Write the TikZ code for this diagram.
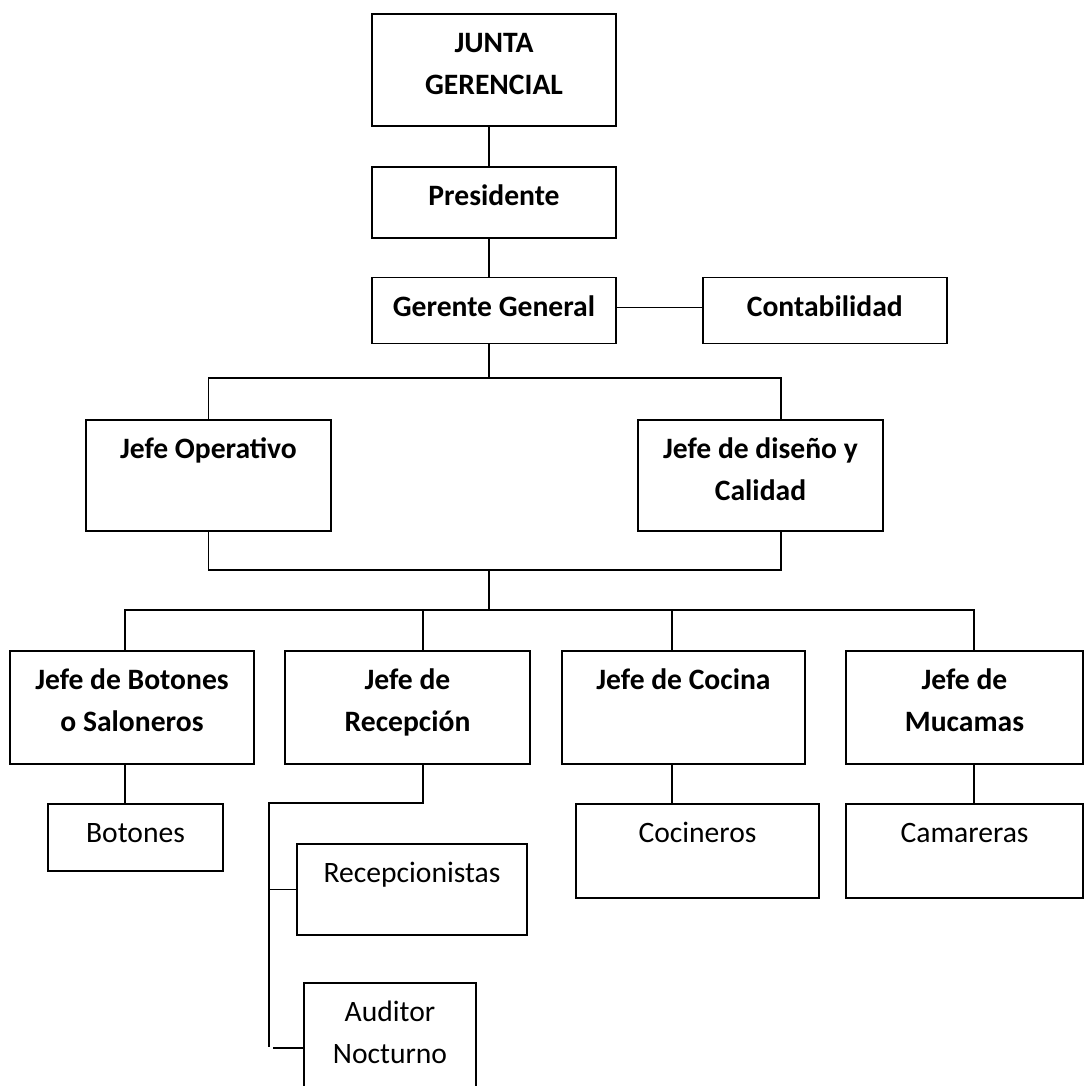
\documentclass[tikz,border=0pt]{standalone}
\usepackage{fontspec}
\setmainfont{Carlito}
\usetikzlibrary{positioning}

\tikzset{
  box/.style 2 args={draw, line width=0.9pt, inner sep=0pt, align=center,
      minimum width=#1, text height=19.5pt, text depth=#2,
      font=\fontsize{14.8pt}{21pt}\selectfont},
  twoline/.style={text height=40.5pt},
  boss/.style={font=\fontsize{14.8pt}{21pt}\selectfont\bfseries},
  link/.style={line width=0.9pt},
}

\begin{document}
\begin{tikzpicture}[x=0.5pt, y=-0.5pt]
\path[fill=white, use as bounding box] (0,0) rectangle (1084,1086);

% direccion
\node[box={122pt}{15.5pt}, twoline, boss, anchor=north] (jg) at (494,13) {JUNTA\\GERENCIAL};
\node[box={122pt}{16pt}, boss, below=19.5pt of jg] (pres) {Presidente};
\node[box={122pt}{13.5pt}, boss, below=19pt of pres] (ger) {Gerente General};
\node[box={122pt}{13.5pt}, boss, right=42.5pt of ger] (cont) {Contabilidad};

% jefaturas
\node[box={122.5pt}{36pt}, boss, anchor=north] (jop) at (208.5,419) {Jefe Operativo};
\node[box={122.5pt}{15pt}, twoline, boss, anchor=north] (jdc) at (760.5,419) {Jefe de diseño y\\Calidad};

\node[box={122pt}{16pt}, twoline, boss, anchor=north] (jbot) at (132,650) {Jefe de Botones\\o Saloneros};
\node[box={122.5pt}{16pt}, twoline, boss, anchor=north] (jrec) at (407.5,650) {Jefe de\\Recepción};
\node[box={121.5pt}{37pt}, boss, anchor=north] (jcoc) at (683.5,650) {Jefe de Cocina};
\node[box={118.5pt}{16pt}, twoline, boss, anchor=north] (jmuc) at (964.5,650) {Jefe de\\Mucamas};

% personal
\node[box={87.5pt}{14pt}, anchor=north] (bot) at (135.5,803) {Botones};
\node[box={115pt}{26pt}, anchor=north] (rcp) at (412,843) {Recepcionistas};
\node[box={86pt}{14.5pt}, twoline, anchor=north] (aud) at (390,982) {Auditor\\Nocturno};
\node[box={121.5pt}{27.5pt}, anchor=north] (coci) at (697.5,803) {Cocineros};
\node[box={118.5pt}{27.5pt}, anchor=north] (cama) at (964.5,803) {Camareras};

% lineas
\coordinate (t) at (489,0);
\coordinate (dj) at (781,0);
\coordinate (bus1) at (0,378);
\coordinate (bus2) at (0,570);
\coordinate (bus3) at (0,610);
\coordinate (d1) at (125,0);
\coordinate (d2) at (423,0);
\coordinate (d3) at (672,0);
\coordinate (d4) at (974,0);
\coordinate (rx) at (269,803);
\coordinate (ry) at (269,1047);
\coordinate (ra) at (273,1048);

\draw[link] (jg.south -| t) -- (pres.north -| t);
\draw[link] (pres.south -| t) -- (ger.north -| t);
\draw[link] ([yshift=1.5pt]ger.east) -- ([yshift=1.5pt]cont.west);
\draw[link] (ger.south -| t) -- (bus1 -| t);
\draw[link] (jop.north) -- (jop.north |- bus1) -- (bus1 -| dj) -- (jdc.north -| dj);
\draw[link] (jop.south) -- (jop.south |- bus2) -- (bus2 -| dj) -- (jdc.south -| dj);
\draw[link] (bus2 -| t) -- (bus3 -| t);
\draw[link] (jbot.north -| d1) -- (bus3 -| d1) -- (bus3 -| d4) -- (jmuc.north -| d4);
\foreach \d/\n in {d2/jrec, d3/jcoc}
    \draw[link] (bus3 -| \d) -- (\n.north -| \d);
\draw[link] (jbot.south -| d1) -- (bot.north -| d1);
\draw[link] (jcoc.south -| d3) -- (coci.north -| d3);
\draw[link] (jmuc.south -| d4) -- (cama.north -| d4);
\draw[link] (jrec.south -| d2) -- (rx -| d2) -- (rx) -- (ry);
\draw[link] (rx |- rcp.west) -- (rcp.west);
\draw[link] (ra) -- (ra -| aud.west);
\end{tikzpicture}
\end{document}
